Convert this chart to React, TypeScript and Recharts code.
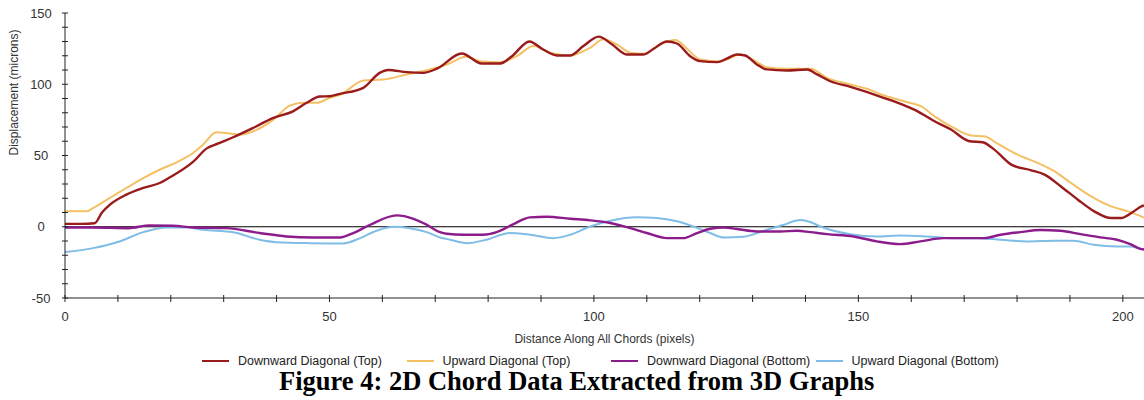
import React from 'react';
import { LineChart, Line, XAxis, YAxis, ReferenceLine, Legend } from 'recharts';

// ---- data ----
const downTopX = [0, 3, 5.6, 7, 8.5, 11.6, 14.8, 17.9, 19.6, 24.2, 26.8, 29, 31.8, 35.6, 39.4, 43.1, 45.7, 48.2, 50.1, 52, 56.4, 59.5, 61.1, 64.6, 67.7, 70.3, 75, 78.8, 82.3, 84.5, 87.8, 90.4, 93, 95.5, 98, 100.9, 103.4, 106.2, 109.4, 111.3, 113.8, 115.7, 118.2, 120.1, 123.3, 125.1, 127, 128.6, 130.8, 132.7, 136.5, 140.3, 142.2, 144.7, 148.5, 151.4, 154.5, 158.7, 161.2, 164.4, 167.5, 171, 173.5, 175.7, 178.9, 182.7, 185.2, 188.3, 191.5, 194.6, 197.8, 199.7, 201.6, 203.5, 204];
const downTopY = [2, 2, 2.5, 10, 15.5, 22.5, 27.2, 30.7, 34.2, 45.5, 55, 58.5, 62.8, 69.4, 76.4, 81, 87, 91.4, 91.6, 93.3, 97.5, 108, 110, 108.5, 108, 110.9, 121.6, 114.6, 114.6, 119.7, 130, 124.4, 120.2, 120.2, 126.8, 133.4, 128, 120.9, 120.9, 124.9, 130, 128.6, 119.7, 116.2, 115.5, 117.9, 120.9, 120.2, 113.9, 110.4, 109.7, 110.4, 106.9, 102.1, 98.2, 94.8, 90.8, 85.1, 81, 74, 68.2, 60, 59.3, 54.1, 43.6, 39.6, 36.6, 28.3, 19, 10.8, 6.1, 6.1, 9.6, 14.3, 15];

const upTopX = [0, 4, 5.3, 8.5, 11.6, 14.8, 17.9, 21.1, 24.2, 26.1, 28.6, 31.2, 33.1, 35.6, 39.4, 42.5, 45, 47.6, 50.1, 52, 56.4, 60.2, 64.6, 69, 72.2, 75.9, 78.5, 82.3, 85.4, 88.6, 91.7, 95.5, 99.3, 101.8, 104.3, 106.9, 109.4, 112.5, 115.4, 117.6, 120.1, 123.9, 127.7, 130.2, 132.7, 136.5, 140.9, 144.1, 148.5, 151.6, 154.9, 159.3, 161.8, 164.4, 167.5, 171.3, 173.8, 176.3, 180.1, 183.9, 187.1, 190.2, 194, 197.8, 201, 204];
const upTopY = [10.8, 10.8, 13.1, 20.2, 27.2, 34.2, 40, 45.2, 51.8, 57.6, 66.3, 65.4, 64.7, 67, 75.2, 85, 87, 87, 90.5, 92.5, 102.6, 103.3, 106.9, 110.4, 113.9, 119.3, 116.2, 115.5, 119.7, 126.8, 122.1, 120.2, 125.6, 131.5, 128, 122.1, 121.4, 128, 131, 124.9, 117.4, 116, 120.9, 116.9, 112, 110.8, 110.9, 104.5, 99.8, 96.8, 92.1, 87.4, 84.6, 77.5, 70.5, 64, 63.5, 58.3, 50.6, 44.8, 38.9, 30.7, 21.3, 14.3, 10.8, 6.5];

const downBotX = [0, 5.3, 12, 16, 20.4, 24.2, 30.5, 36.8, 41.9, 46.9, 52, 54.5, 57.7, 62.7, 65.9, 68.4, 70.9, 72.2, 75.3, 79, 81.6, 84.8, 87.9, 91.1, 95.5, 99.3, 103.1, 106.9, 110, 113.8, 116.9, 119.5, 122, 124.6, 127.1, 130.8, 135.2, 138.4, 140.9, 144.1, 149.1, 153.5, 157.9, 161.7, 166.1, 170.5, 173.7, 176.9, 180.6, 184.4, 188.2, 192, 195.7, 198.9, 201.4, 203.3, 204];
const downBotY = [-0.5, -0.5, -1, 1, 0.7, -0.5, -1, -4.4, -6.8, -7.5, -7.5, -4.4, 1.4, 8, 5.6, 1.4, -3.8, -4.9, -5.6, -5.6, -3.8, 1.9, 6.6, 7, 5.6, 4.5, 2.6, -1, -4.4, -8, -8, -4.4, -1.4, -0.5, -1.6, -3.3, -3.3, -2.8, -3.8, -5.2, -6.8, -10.3, -12.2, -10.3, -8, -8, -8, -5.6, -3.8, -2.3, -2.8, -5.2, -7.5, -9.1, -12.2, -15.5, -16];

const upBotX = [0, 5.3, 10.3, 14.8, 19.2, 23, 26.1, 31.8, 36.8, 40, 46.3, 52.6, 55.8, 58.9, 62.1, 65.2, 68.4, 70.9, 72.8, 76, 79.7, 84.1, 87.9, 92.3, 95.5, 99.3, 103.1, 108.1, 111.9, 115.7, 118.8, 122, 124.5, 128.3, 132.1, 135.9, 139, 140.9, 142.8, 148.5, 153.5, 157.9, 162.9, 168, 172.4, 176.9, 181.9, 187, 190.7, 194.5, 198.9, 201.4, 203.3, 204];
const upBotY = [-17.8, -15, -10.3, -3.8, -0.5, -0.5, -2.1, -3.8, -9.1, -10.8, -11.5, -11.7, -8, -2.8, 0, -1, -3.8, -7.5, -9.1, -11.5, -9.1, -4.4, -5.6, -8, -5.6, 0.2, 4.2, 6.6, 6.1, 3.8, 0.2, -4.4, -7.5, -7, -2.8, 1.4, 4.7, 3.3, 0.2, -5.2, -6.8, -6.1, -6.8, -8, -8, -9.1, -10.3, -9.8, -9.8, -12.7, -13.8, -13.8, -15.5, -16];

const seriesNames = ['Downward Diagonal (Top)', 'Upward Diagonal (Top)', 'Downward Diagonal (Bottom)', 'Upward Diagonal (Bottom)'];
const xTicks = [0, 10, 20, 30, 40, 50, 60, 70, 80, 90, 100, 110, 120, 130, 140, 150, 160, 170, 180, 190, 200];
const yTicks = [-50, -40, -30, -20, -10, 0, 10, 20, 30, 40, 50, 60, 70, 80, 90, 100, 110, 120, 130, 140, 150];
const xLabelEvery = 50;
const yLabelEvery = 50;
const xTitle = 'Distance Along All Chords (pixels)';
const yTitle = 'Displacement (microns)';
const figureTitle = 'Figure 4: 2D Chord Data Extracted from 3D Graphs';

// ---- styles ----
const colors = ['#9a1b1b', '#f4c064', '#8c1c8c', '#7fbde6'];
const widths = [2.4, 2, 2.4, 2];
const drawOrder = [1, 0, 3, 2];
const SANS = "'Liberation Sans', Arial, sans-serif";

const toPoints = (xs: number[], ys: number[]) => xs.map((x, i) => ({ x, y: ys[i] }));
const seriesData = [
  toPoints(downTopX, downTopY),
  toPoints(upTopX, upTopY),
  toPoints(downBotX, downBotY),
  toPoints(upBotX, upBotY),
];

const XTick = (props: any) => {
  const { x, y, payload } = props;
  const major = payload.value % xLabelEvery === 0;
  return (
    <g>
      <line x1={x} x2={x} y1={y - 3} y2={y + 4} stroke="#222" strokeWidth={1} />
      {major && (
        <text x={x} y={y + 18} dy="0.35em" textAnchor="middle" fontSize={13} fill="#333" fontFamily={SANS}>
          {payload.value}
        </text>
      )}
    </g>
  );
};

const YTick = (props: any) => {
  const { x, y, payload } = props;
  const major = payload.value % yLabelEvery === 0;
  return (
    <g>
      <line x1={x - 3} x2={x + 3} y1={y} y2={y} stroke="#222" strokeWidth={1} />
      {major && (
        <text x={x - 24} y={y} dy="0.35em" textAnchor="middle" fontSize={13} fill="#333" fontFamily={SANS}>
          {payload.value}
        </text>
      )}
    </g>
  );
};

const LegendContent = () => (
  <div style={{ display: 'flex', fontFamily: SANS, fontSize: 12.5, color: '#222' }}>
    {seriesNames.map((n, i) => (
      <div key={n} style={{ width: 204.5, display: 'flex', alignItems: 'center', height: 16 }}>
        <div style={{ width: 27, height: 2.5, background: colors[i], marginRight: 9 }} />
        <span style={{ whiteSpace: 'nowrap' }}>{n}</span>
      </div>
    ))}
  </div>
);

export default function App() {
  return (
    <div style={{ position: 'absolute', left: 0, top: 0, width: 1144, height: 400, background: '#fff' }}>
      <LineChart width={1144} height={400} margin={{ top: 13, right: 0, bottom: 57, left: 0 }}>
        <XAxis
          type="number"
          dataKey="x"
          domain={[0, 204]}
          ticks={xTicks}
          interval={0}
          tickSize={0}
          tickMargin={0}
          tick={(p: any) => <XTick {...p} />}
          height={45}
          stroke="#222"
          allowDataOverflow
          label={{ value: xTitle, position: 'insideBottom', offset: 0, fill: '#333', fontSize: 12, fontFamily: SANS }}
        />
        <YAxis
          type="number"
          dataKey="y"
          domain={[-50, 150]}
          ticks={yTicks}
          interval={0}
          tickSize={0}
          tickMargin={0}
          tick={(p: any) => <YTick {...p} />}
          width={65}
          stroke="#222"
          allowDataOverflow
          label={{ value: yTitle, angle: -90, position: 'insideLeft', offset: 14, fill: '#333', fontSize: 12, fontFamily: SANS }}
        />
        <ReferenceLine y={0} stroke="#000" strokeWidth={1} />
        {drawOrder.map((i) => (
          <Line
            key={seriesNames[i]}
            name={seriesNames[i]}
            data={seriesData[i]}
            dataKey="y"
            type="monotone"
            stroke={colors[i]}
            strokeWidth={widths[i]}
            dot={false}
            activeDot={false}
            isAnimationActive={false}
          />
        ))}
        <Legend
          layout="horizontal"
          verticalAlign="middle"
          align="center"
          content={() => <LegendContent />}
          wrapperStyle={{ left: 202, top: 353, width: 830 }}
        />
      </LineChart>
      <div
        style={{
          position: 'absolute',
          left: 279,
          top: 368,
          fontFamily: "'Liberation Serif', 'Times New Roman', serif",
          fontWeight: 'bold',
          fontSize: 26.5,
          lineHeight: 1,
          whiteSpace: 'nowrap',
          color: '#000',
        }}
      >
        {figureTitle}
      </div>
    </div>
  );
}
